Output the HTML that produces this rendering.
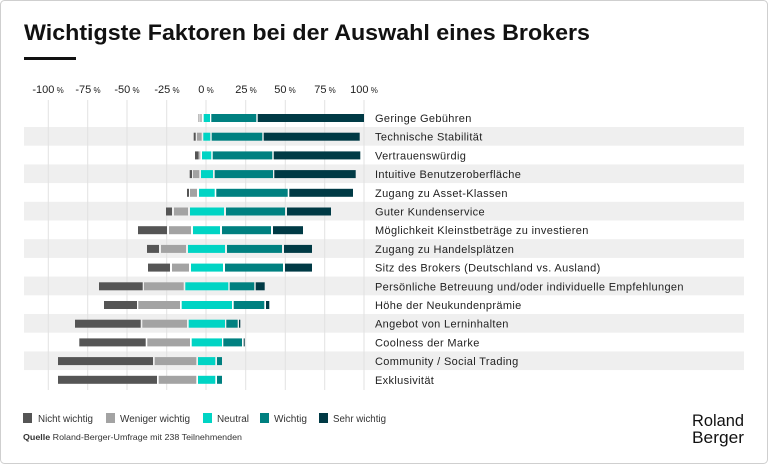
<!DOCTYPE html>
<html><head><meta charset="utf-8"><style>
html,body{margin:0;padding:0;background:#fff;}
svg{display:block;font-family:"Liberation Sans",sans-serif;}
</style></head><body>
<svg width="768" height="464" viewBox="0 0 768 464" xmlns="http://www.w3.org/2000/svg">
<rect x="0.5" y="0.5" width="767" height="463" rx="4" fill="#fff" stroke="#cfcfcf"/>
<text x="24" y="40" font-size="22" font-weight="bold" fill="#111" textLength="566" lengthAdjust="spacingAndGlyphs">Wichtigste Faktoren bei der Auswahl eines Brokers</text>
<rect x="24" y="57" width="52" height="3" fill="#111"/>
<g font-size="11" fill="#222" text-anchor="middle">
<text x="48" y="93">-100<tspan font-size="8"> %</tspan></text>
<text x="88" y="93">-75<tspan font-size="8"> %</tspan></text>
<text x="127" y="93">-50<tspan font-size="8"> %</tspan></text>
<text x="167" y="93">-25<tspan font-size="8"> %</tspan></text>
<text x="206" y="93">0<tspan font-size="8"> %</tspan></text>
<text x="246" y="93">25<tspan font-size="8"> %</tspan></text>
<text x="285" y="93">50<tspan font-size="8"> %</tspan></text>
<text x="325" y="93">75<tspan font-size="8"> %</tspan></text>
<text x="364" y="93">100<tspan font-size="8"> %</tspan></text>
</g>
<g fill="#efefef">
<rect x="24" y="127" width="720" height="18.7"/>
<rect x="24" y="164.4" width="720" height="18.7"/>
<rect x="24" y="201.8" width="720" height="18.7"/>
<rect x="24" y="239.2" width="720" height="18.7"/>
<rect x="24" y="276.6" width="720" height="18.7"/>
<rect x="24" y="314" width="720" height="18.7"/>
<rect x="24" y="351.4" width="720" height="18.7"/>
</g>
<g stroke="#e2e2e2" stroke-width="1">
<line x1="48.3" y1="100" x2="48.3" y2="390"/><line x1="87.7" y1="100" x2="87.7" y2="390"/>
<line x1="127" y1="100" x2="127" y2="390"/><line x1="166.7" y1="100" x2="166.7" y2="390"/>
<line x1="206" y1="100" x2="206" y2="390"/><line x1="245.7" y1="100" x2="245.7" y2="390"/>
<line x1="285.3" y1="100" x2="285.3" y2="390"/><line x1="324.7" y1="100" x2="324.7" y2="390"/>
<line x1="364" y1="100" x2="364" y2="390"/>
</g>
<g id="bars"></g>
<g font-size="11" fill="#222" letter-spacing="0.35" id="labels"></g>
<g font-size="10" fill="#333">
<rect x="23" y="413" width="9" height="10" fill="#555"/><text x="38" y="422" textLength="55" lengthAdjust="spacingAndGlyphs">Nicht wichtig</text>
<rect x="106" y="413" width="9" height="10" fill="#a3a3a3"/><text x="120" y="422" textLength="70" lengthAdjust="spacingAndGlyphs">Weniger wichtig</text>
<rect x="203" y="413" width="9" height="10" fill="#00d4c4"/><text x="217" y="422" textLength="32" lengthAdjust="spacingAndGlyphs">Neutral</text>
<rect x="260" y="413" width="9" height="10" fill="#008080"/><text x="274" y="422" textLength="33" lengthAdjust="spacingAndGlyphs">Wichtig</text>
<rect x="319" y="413" width="9" height="10" fill="#003a45"/><text x="333" y="422" textLength="53" lengthAdjust="spacingAndGlyphs">Sehr wichtig</text>
</g>
<text x="23" y="440" font-size="8.5" fill="#333" textLength="219" lengthAdjust="spacingAndGlyphs"><tspan font-weight="bold">Quelle</tspan> Roland-Berger-Umfrage mit 238 Teilnehmenden</text>
<text x="692" y="426" font-size="17" fill="#111" textLength="52" lengthAdjust="spacingAndGlyphs">Roland</text>
<text x="692" y="443" font-size="17" fill="#111" textLength="52" lengthAdjust="spacingAndGlyphs">Berger</text>
<script>
var C=["#555","#a3a3a3","#00d4c4","#008080","#003a45"];
var rows=[
["Geringe Gebühren",[[198.3,199.5,1],[200.3,201.7,1],[203.7,210,2],[211.3,256.3,3],[257.7,364,4]]],
["Technische Stabilität",[[193.7,195.7,0],[197,201.7,1],[203.3,210.3,2],[211.7,262.3,3],[263.7,359.7,4]]],
["Vertrauenswürdig",[[195,198.7,0],[199.3,200.3,1],[202,211.3,2],[212.7,272.3,3],[273.7,360.3,4]]],
["Intuitive Benutzeroberfläche",[[189.7,192,0],[193,199.3,1],[201,213,2],[214.7,273,3],[274.3,355.7,4]]],
["Zugang zu Asset-Klassen",[[187,189,0],[190,197,1],[199,214.7,2],[216.3,287.7,3],[289.3,353,4]]],
["Guter Kundenservice",[[166,172,0],[174,188,1],[190,224,2],[226,285,3],[287,331,4]]],
["Möglichkeit Kleinstbeträge zu investieren",[[138,167,0],[169,191,1],[193,220,2],[222,271,3],[273,303,4]]],
["Zugang zu Handelsplätzen",[[147,159,0],[161,186,1],[188,225,2],[227,282,3],[284,312,4]]],
["Sitz des Brokers (Deutschland vs. Ausland)",[[148,170,0],[172,189,1],[191,223,2],[225,283,3],[285,312,4]]],
["Persönliche Betreuung und/oder individuelle Empfehlungen",[[99,142.7,0],[144,183.7,1],[185.3,228.3,2],[229.7,254.3,3],[255.7,264.7,4]]],
["Höhe der Neukundenprämie",[[104,137,0],[138.3,180,1],[181.7,232,2],[233.7,264.3,3],[266,269.3,4]]],
["Angebot von Lerninhalten",[[75,140.7,0],[142.3,187,1],[188.7,225,2],[226.3,237.7,3],[239,240.3,4]]],
["Coolness der Marke",[[79.3,145.7,0],[147.3,190,1],[191.7,222,2],[223.3,242,3],[243.7,244.7,4]]],
["Community / Social Trading",[[58,153,0],[154.7,196.3,1],[198,215.3,2],[217,222,3]]],
["Exklusivität",[[58,157,0],[158.7,196.3,1],[198,215.3,2],[217,222,3]]]];
var ns="http://www.w3.org/2000/svg",b=document.getElementById("bars"),l=document.getElementById("labels");
rows.forEach(function(r,i){var cy=118+i*18.7;
r[1].forEach(function(s){var e=document.createElementNS(ns,"rect");e.setAttribute("x",s[0]);e.setAttribute("y",cy-4);e.setAttribute("width",s[1]-s[0]);e.setAttribute("height",8);e.setAttribute("fill",C[s[2]]);b.appendChild(e);});
var t=document.createElementNS(ns,"text");t.setAttribute("x",375);t.setAttribute("y",cy+4);t.textContent=r[0];l.appendChild(t);});
</script>
</svg>
</body></html>
